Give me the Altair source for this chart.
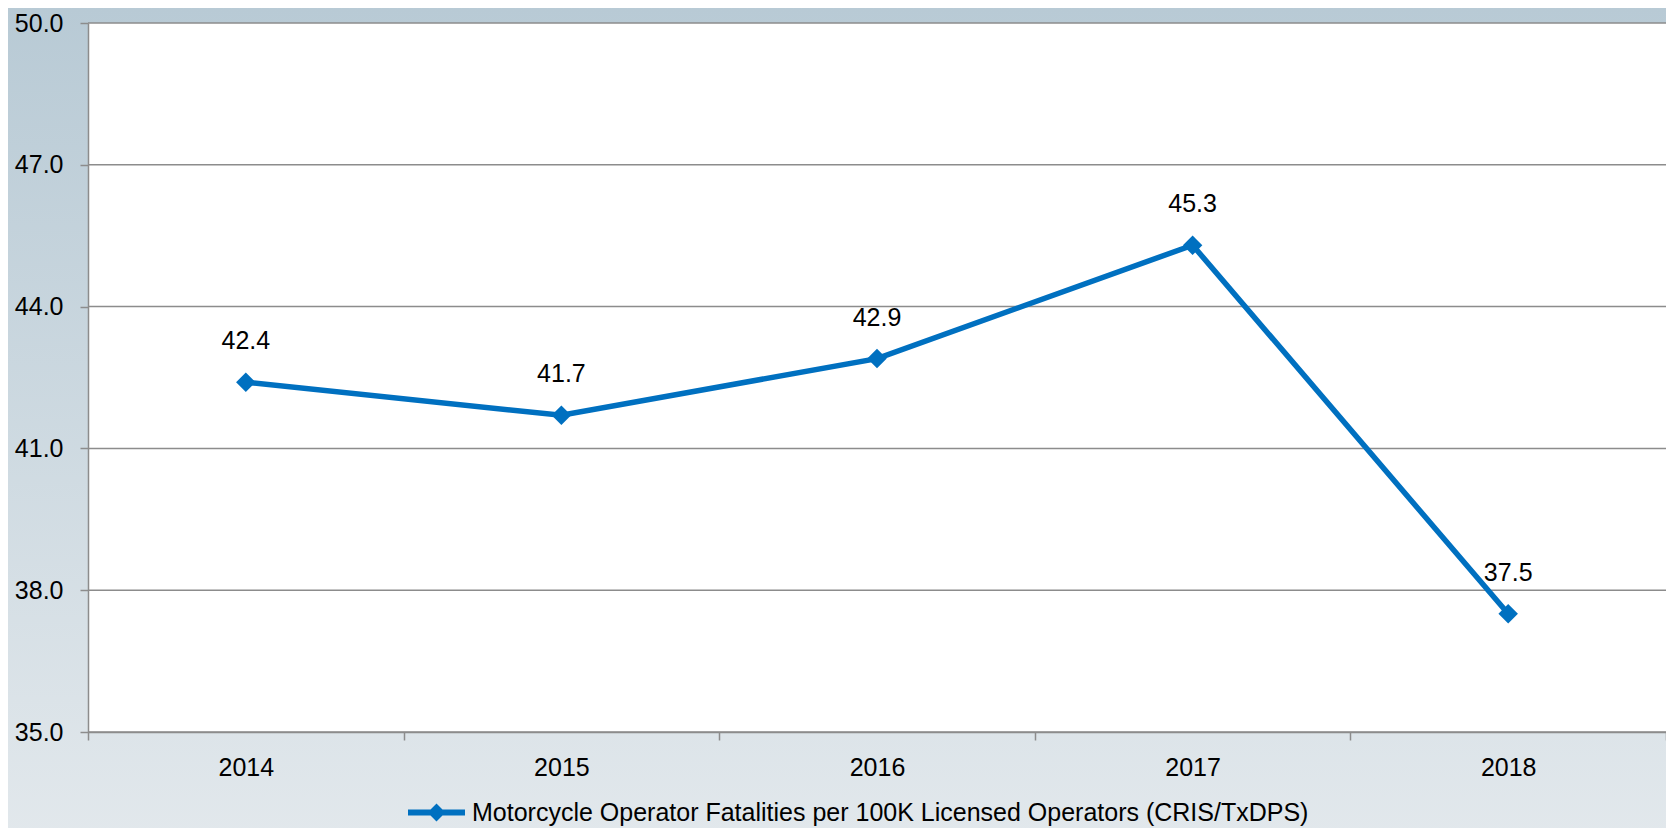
import altair as alt
import pandas as pd

# ---- data ----
years = ["2014", "2015", "2016", "2017", "2018"]
values = [42.4, 41.7, 42.9, 45.3, 37.5]
y_ticks = [35.0, 38.0, 41.0, 44.0, 47.0, 50.0]
series_name = "Motorcycle Operator Fatalities per 100K Licensed Operators (CRIS/TxDPS)"

W, H = 1578, 709
PAD_L, PAD_T, PAD_B = 80, 15, 96
FONT = "Liberation Sans"
BLUE = "#0070C0"
GRID = "#8c8c8c"

df = pd.DataFrame({"year": years, "value": values, "series": [series_name] * len(years)})
grid_df = pd.DataFrame({"value": y_ticks})
one = pd.DataFrame({"k": [0]})

x_enc = alt.X(
    "year:N",
    scale=alt.Scale(type="band", domain=years, paddingInner=0, paddingOuter=0),
    axis=alt.Axis(
        title=None, tickBand="extent", labelAngle=0, labelFont=FONT, labelFontSize=25,
        labelColor="#000000", labelPadding=15, tickSize=8, tickColor=GRID, tickWidth=1.5,
        domainColor=GRID, domainWidth=1.5, grid=False, zindex=1,
    ),
)
y_scale = alt.Scale(domain=[35, 50], nice=False, zero=False)
y_axis = alt.Axis(
    title=None, values=y_ticks, format=".1f", labelFont=FONT, labelFontSize=25,
    labelColor="#000000", labelPadding=17, tickSize=8, tickColor=GRID, tickWidth=1.5,
    domainColor=GRID, domainWidth=1.5, grid=False, zindex=1,
)
y_enc = alt.Y("value:Q", scale=y_scale, axis=y_axis)

gradient = alt.LinearGradient(
    gradient="linear", x1=0, y1=0, x2=0, y2=1,
    stops=[alt.GradientStop(offset=0, color="#b8cad5"),
           alt.GradientStop(offset=1, color="#e2e8ec")],
)

bg = alt.Chart(one).mark_rect(fill=gradient, clip=False).encode(
    x=alt.value(-PAD_L), x2=alt.value(W + 10),
    y=alt.value(-PAD_T), y2=alt.value(H + PAD_B + 10),
)
plot_bg = alt.Chart(one).mark_rect(fill="#ffffff").encode(
    x=alt.value(0), x2=alt.value(W), y=alt.value(0), y2=alt.value(H),
)
grid = alt.Chart(grid_df).mark_rule(color=GRID, strokeWidth=1.5).encode(
    y=y_enc, x=alt.value(0), x2=alt.value(W),
)
line = alt.Chart(df).mark_line(color=BLUE, strokeWidth=5.5).encode(x=x_enc, y=y_enc)
points = alt.Chart(df).mark_point(shape="diamond", filled=True, size=380, opacity=1).encode(
    x=x_enc, y=y_enc,
    color=alt.Color(
        "series:N",
        scale=alt.Scale(domain=[series_name], range=[BLUE]),
        legend=alt.Legend(
            title=None, orient="none", legendX=336, legendY=777, padding=0,
            labelFont=FONT, labelFontSize=25, labelColor="#000000", labelLimit=2000,
            symbolType="M-3,-0.32L-0.63,-0.32L0,-0.95L0.63,-0.32L3,-0.32L3,0.32L0.63,0.32L0,0.95L-0.63,0.32L-3,0.32Z",
            symbolSize=361, symbolStrokeWidth=0, symbolOpacity=1, symbolFillColor=BLUE,
            labelOffset=23,
        ),
    ),
)
labels = alt.Chart(df).mark_text(
    dy=-41, font=FONT, fontSize=25, color="#000000", baseline="middle", align="center"
).encode(x=x_enc, y=y_enc, text=alt.Text("value:Q", format=".1f"))

chart = (
    alt.layer(bg, plot_bg, grid, line, points, labels)
    .properties(
        width=W, height=H,
        autosize=alt.AutoSizeParams(type="none"),
        padding={"left": PAD_L, "top": PAD_T, "right": 0, "bottom": PAD_B},
    )
    .configure_view(stroke=None)
    .configure(background="#e2e8ec")
)

chart.save("out.html", embed_options={"renderer": "svg", "actions": False})
